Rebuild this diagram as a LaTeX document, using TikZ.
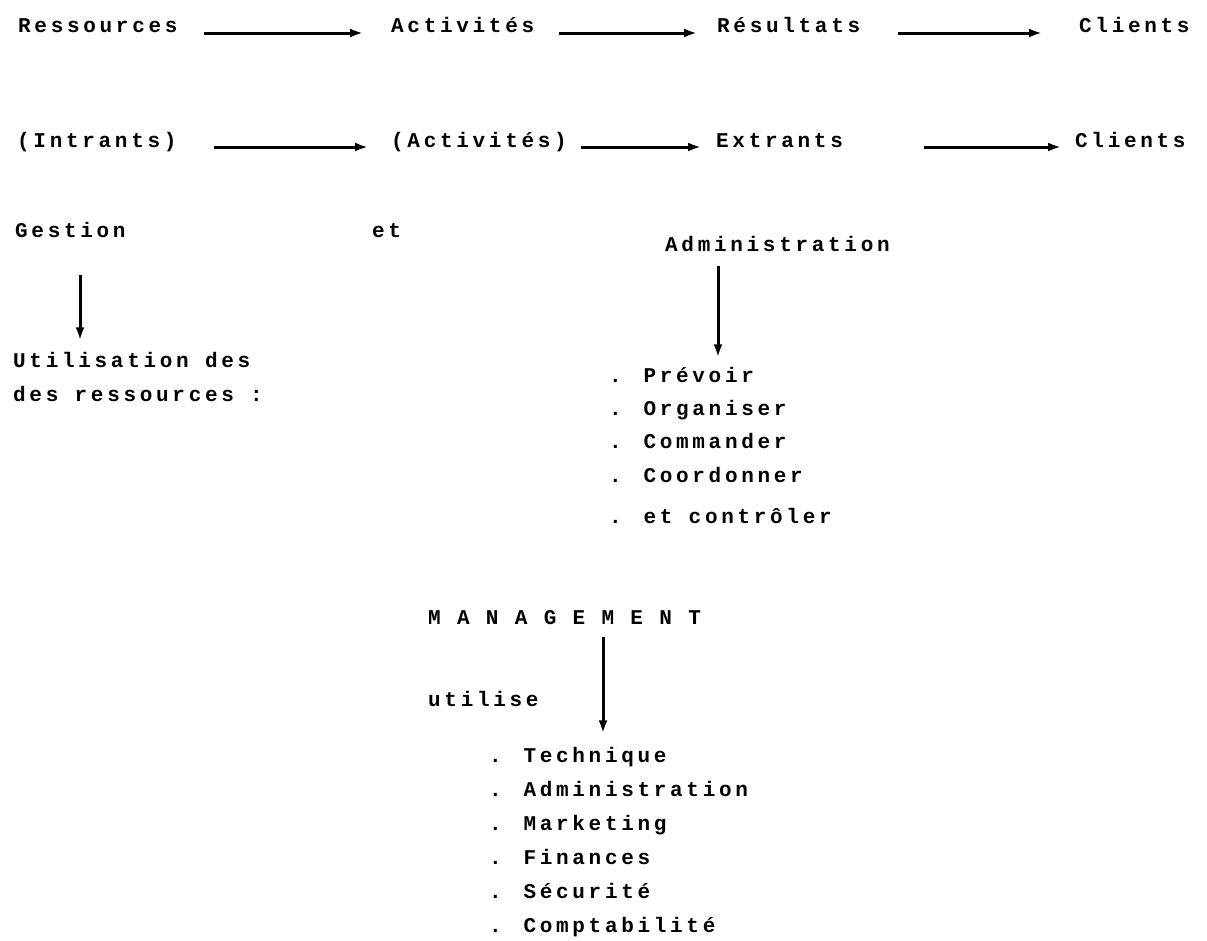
\documentclass[tikz,border=0pt]{standalone}
\usepackage{fontspec}
\newfontfamily\scanfont[LetterSpace=17.6]{Liberation Mono}
\usetikzlibrary{arrows.meta}
\usetikzlibrary{positioning}

\tikzset{
  txt/.style={anchor=west,inner sep=0pt,text height=15pt,text depth=4pt,
    font=\scanfont\bfseries\fontsize{21}{25}\selectfont},
  arr/.style={line width=3pt,-{Latex[length=13pt,width=9pt]}}
}

\begin{document}
\begin{tikzpicture}[x=1pt,y=-1pt]
\useasboundingbox (0,0) rectangle (1207,940);

% chaine du haut
\node[txt] (ress) at (18,27) {Ressources};
\node[txt] (act) at (391,27) {Activités};
\node[txt] (res) at (717,27) {Résultats};
\node[txt] (cli) at (1079,27) {Clients};
\draw[arr,shorten <=26pt,shorten >=28pt] ([yshift=-6pt]ress.east) -- ([yshift=-6pt]act.west);
\draw[arr,shorten <=25pt,shorten >=20pt] ([yshift=-6pt]act.east) -- ([yshift=-6pt]res.west);
\draw[arr,shorten <=38pt,shorten >=37pt] ([yshift=-6pt]res.east) -- ([yshift=-6pt]cli.west);

% meme chaine, second libelle
\node[txt] (intr) at (17,142) {(Intrants)};
\node[txt] (act2) at (391,142) {(Activités)};
\node[txt] (extr) at (716,142) {Extrants};
\node[txt] (cli2) at (1075,142) {Clients};
\draw[arr,shorten <=37pt,shorten >=23pt] ([yshift=-5pt]intr.east) -- ([yshift=-5pt]act2.west);
\draw[arr,shorten <=14pt,shorten >=15pt] ([yshift=-5pt]act2.east) -- ([yshift=-5pt]extr.west);
\draw[arr,shorten <=81pt,shorten >=14pt] ([yshift=-5pt]extr.east) -- ([yshift=-5pt]cli2.west);

% gestion et administration
\node[txt] (gest) at (15,232) {Gestion};
\node[txt] (et) at (372,232) {et};
\node[txt] (admin) at (665,246) {Administration};

\node[txt] (util) at (13,362) {Utilisation des};
\node[txt] (util2) at (13,396) {des ressources :};
\draw[arr,shorten <=33pt,shorten >=12pt] ([xshift=65pt]gest.south west) -- ([xshift=67pt]util.north west);

\node[txt] (prev) at (609,377) {. Prévoir};
\node[txt] (orga) at (609,410) {. Organiser};
\node[txt] (comm) at (609,443) {. Commander};
\node[txt] (coor) at (609,477) {. Coordonner};
\node[txt] (ctrl) at (609,518) {. et contrôler};
\draw[arr,shorten <=10pt,shorten >=10pt] ([xshift=53pt]admin.south west) -- ([xshift=109pt]prev.north west);

% management
\node[txt] (mgmt) at (428,619) {M A N A G E M E N T};
\node[txt] (utilise) at (428,701) {utilise};

\node[txt] (tech) at (489,757) {. Technique};
\node[txt] (adm2) at (489,791) {. Administration};
\node[txt] (mark) at (489,825) {. Marketing};
\node[txt] (fin) at (489,859) {. Finances};
\node[txt] (secu) at (489,893) {. Sécurité};
\node[txt] (compta) at (489,927) {. Comptabilité};
\draw[arr,shorten <=8pt,shorten >=14pt] ([xshift=175pt]mgmt.south west) -- ([xshift=114pt]tech.north west);

\end{tikzpicture}
\end{document}
